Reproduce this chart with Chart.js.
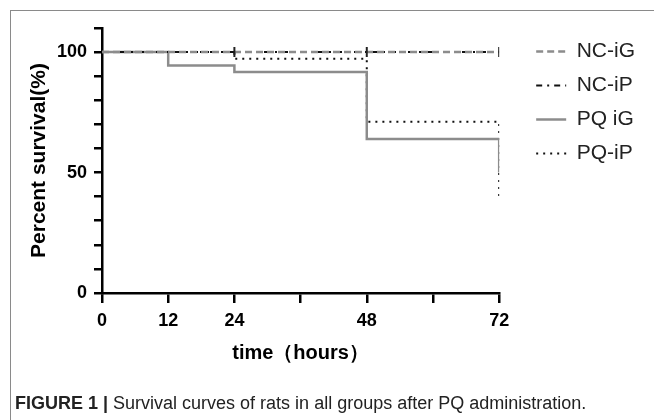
<!DOCTYPE html>
<html>
  <head>
    <meta charset="utf-8" />
    <title>Survival curves</title>
    <script src="https://cdn.jsdelivr.net/npm/chart.js"></script>
    <style>
      html,
      body {
        margin: 0;
        background: #fff;
        overflow: hidden;
      }
      #frame {
        position: absolute;
        left: 10px;
        top: 10px;
        width: 660px;
        height: 420px;
        border-top: 1.5px solid #8a8a8a;
        border-left: 1.5px solid #8a8a8a;
      }
      #wrap {
        position: absolute;
        left: 0;
        top: 0;
        width: 654px;
        height: 420px;
      }
      #caption {
        position: absolute;
        left: 15px;
        top: 393px;
        font-family: "Liberation Sans", Arial, sans-serif;
        font-size: 18px;
        color: #222;
        white-space: nowrap;
      }
      #caption b {
        font-weight: bold;
      }
    </style>
  </head>

  <body>
    <div id="frame"></div>
    <div id="wrap"><canvas id="survival" width="654" height="420"></canvas></div>
    <div id="caption"><b>FIGURE 1 |</b> Survival curves of rats in all groups after PQ administration.</div>

    <script type="text/javascript">
      // group names as in the legend
      const groups = ["NC-iG", "NC-iP", "PQ iG", "PQ-iP"];

      // step points (hours, percent survival)
      const ncIgHours = [0, 24, 48, 72];
      const ncIgSurv = [100, 100, 100, 100];
      const ncIpHours = [0, 72];
      const ncIpSurv = [100, 100];
      const pqIgHours = [0, 12, 24, 48, 72];
      const pqIgSurv = [100, 94.4, 91.7, 63.9, 50];
      const pqIpHours = [0, 24, 48, 72];
      const pqIpSurv = [100, 97.2, 71.1, 38.9];

      const xTickLabels = [0, 12, 24, 48, 72];
      const yTickLabels = [0, 50, 100];

      function pts(hours, surv) {
        return hours.map((h, i) => ({ x: h, y: surv[i] }));
      }

      const boldFont = { family: "'Liberation Sans', Arial, sans-serif", weight: "bold" };

      const cfg = {
        type: "line",
        data: {
          datasets: [
            {
              label: groups[0],
              data: pts(ncIgHours, ncIgSurv),
              borderColor: "#8c8c8c",
              borderWidth: 2.5,
              borderDash: [7, 4],
              stepped: true,
              pointStyle: "line",
              rotation: 90,
              pointRadius: [0, 5, 5, 5],
              pointBorderColor: "#222",
              pointBorderWidth: 2,
              fill: false,
            },
            {
              label: groups[1],
              data: pts(ncIpHours, ncIpSurv),
              borderColor: "#111",
              borderWidth: 2,
              borderDash: [6, 5, 2, 5],
              stepped: true,
              pointRadius: 0,
              fill: false,
            },
            {
              label: groups[2],
              data: pts(pqIgHours, pqIgSurv),
              borderColor: "#8c8c8c",
              borderWidth: 2.5,
              stepped: true,
              pointRadius: 0,
              fill: false,
            },
            {
              label: groups[3],
              data: pts(pqIpHours, pqIpSurv),
              borderColor: "#111",
              borderWidth: 2,
              borderDash: [2, 5],
              stepped: true,
              pointRadius: 0,
              fill: false,
            },
          ],
        },
        options: {
          responsive: false,
          animation: false,
          layout: { padding: { left: 20, top: 28, right: 9, bottom: 50 } },
          plugins: {
            tooltip: { enabled: false },
            legend: {
              position: "right",
              align: "start",
              maxWidth: 200,
              labels: {
                usePointStyle: true,
                pointStyleWidth: 30,
                padding: 13,
                color: "#222",
                font: { family: "'Liberation Sans', Arial, sans-serif", size: 21 },
                generateLabels: function (chart) {
                  const items = Chart.defaults.plugins.legend.labels.generateLabels(chart);
                  items.forEach((it) => {
                    const ds = chart.data.datasets[it.datasetIndex];
                    it.pointStyle = "line";
                    it.rotation = 0;
                    it.strokeStyle = ds.borderColor;
                    it.lineWidth = ds.borderWidth;
                    it.lineDash = ds.borderDash || [];
                  });
                  return items;
                },
              },
            },
          },
          scales: {
            x: {
              type: "linear",
              min: 0,
              max: 72,
              afterBuildTicks: function (s) {
                s.ticks = [0, 12, 24, 36, 48, 60, 72].map((v) => ({ value: v }));
              },
              afterFit: function (s) {
                s.height = 77;
              },
              border: { color: "#000", width: 2.5 },
              grid: {
                drawOnChartArea: false,
                color: "#000",
                lineWidth: 2.5,
                tickLength: 10,
              },
              ticks: {
                padding: 7,
                color: "#000",
                font: { ...boldFont, size: 18 },
                maxRotation: 0,
                autoSkip: false,
                callback: (v) => (xTickLabels.includes(v) ? String(v) : ""),
              },
              title: {
                display: true,
                text: "time（hours）",
                color: "#000",
                font: { ...boldFont, size: 20 },
                padding: { top: 0, bottom: 5 },
              },
            },
            y: {
              min: 0,
              max: 110,
              afterBuildTicks: function (s) {
                const t = [];
                for (let v = 0; v <= 110; v += 10) t.push({ value: v });
                s.ticks = t;
              },
              afterFit: function (s) {
                s.width = 82;
                s.paddingTop = 0;
                s.paddingBottom = 0;
              },
              border: { color: "#000", width: 2.5 },
              grid: {
                drawOnChartArea: false,
                color: "#000",
                lineWidth: 2.5,
                tickLength: 8,
              },
              ticks: {
                padding: 7,
                color: "#000",
                font: { ...boldFont, size: 18 },
                autoSkip: false,
                callback: (v) => (yTickLabels.includes(v) ? String(v) : ""),
              },
              title: {
                display: true,
                text: "Percent survival(%)",
                color: "#000",
                font: { ...boldFont, size: 21 },
                padding: { top: 7, bottom: 0 },
              },
            },
            // empty right-hand axis, only keeps the gap between plot and legend
            gap: {
              type: "linear",
              position: "right",
              display: true,
              grid: { display: false },
              border: { display: false },
              ticks: { display: false },
              afterFit: function (s) {
                s.width = 24;
              },
            },
          },
        },
      };

      new Chart(document.getElementById("survival"), cfg);
    </script>
  </body>
</html>
